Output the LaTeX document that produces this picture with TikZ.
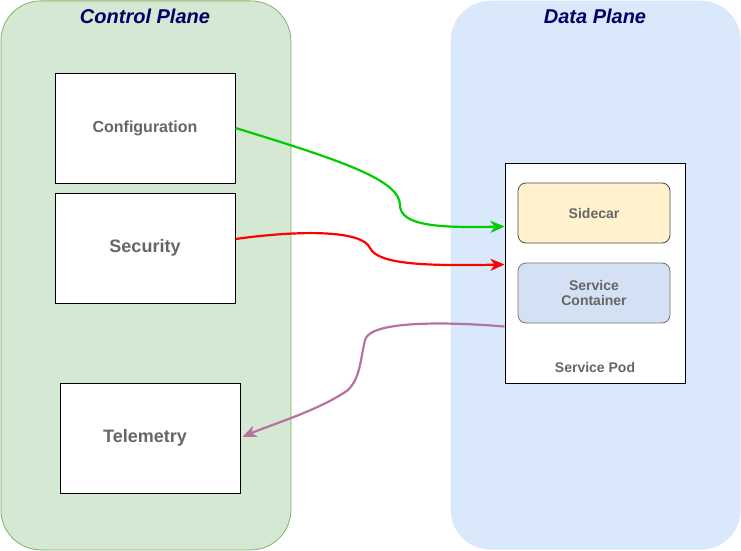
\documentclass[tikz,border=0pt]{standalone}
\usepackage{fontspec}
\setmainfont{Liberation Sans}
\usepackage{tikz}
\usetikzlibrary{arrows,arrows.meta,calc,positioning}

\definecolor{ctrlfill}{HTML}{D5E8D4}
\definecolor{ctrlline}{HTML}{82B366}
\definecolor{datafill}{HTML}{DAE8FC}
\definecolor{titleblue}{HTML}{000066}
\definecolor{labelgray}{HTML}{666666}
\definecolor{carfill}{HTML}{FFF2CC}
\definecolor{contfill}{HTML}{D4E1F5}
\definecolor{linkgreen}{HTML}{00CC00}
\definecolor{linkred}{HTML}{FF0000}
\definecolor{linkpurple}{HTML}{B5739D}

\begin{document}
\begin{tikzpicture}[x=1pt,y=-1pt,>={Stealth[length=14pt,width=12pt,inset=4pt]},auto]
%   Control Plane              Data Plane
%   [Configuration] ---------> +-------------+
%   [Security]      ---------> | [Sidecar]   |
%                              | [Container] |
%   [Telemetry]     <--------- +-Service Pod-+
    \tikzstyle{plane}=[anchor=north west, rounded corners=40pt, minimum width=290pt, minimum height=549pt, inner sep=0pt]
    \tikzstyle{title}=[anchor=center, font=\fontsize{20}{22}\selectfont\bfseries\itshape, text=titleblue]
    \tikzstyle{block}=[draw=black, fill=white, line width=1pt, minimum width=180pt, minimum height=110pt, text=labelgray]
    \tikzstyle{inner}=[draw=black!70, line width=0.8pt, rounded corners=8pt, minimum width=152pt, minimum height=60pt, text=labelgray, align=center, font=\fontsize{14}{15}\selectfont\bfseries]
    \tikzstyle{link}=[->, line width=2.2pt]
    \useasboundingbox (0,0) rectangle (741,551);

    % planes
    \node[plane, fill=ctrlfill, draw=ctrlline, line width=0.8pt] (ctrl) at (0.5,0.5) {};
    \node[plane, fill=datafill] (data) at (450.5,0.5) {};
    \node[title] (ctrltitle) at (145,16) {Control Plane};
    \node[title] (datatitle) at (595,16) {Data Plane};

    % control plane components
    \node[block, font=\fontsize{16}{18}\selectfont\bfseries] (config) at (145,128) {Configuration};
    \node[block, font=\fontsize{18}{20}\selectfont\bfseries, below=9pt of config] (security) {Security};
    \node[block, font=\fontsize{18}{20}\selectfont\bfseries] (telemetry) at (150,438) {Telemetry\kern10pt};

    % data plane components
    \node[block, minimum height=220pt] (pod) at (595,273) {};
    \node[font=\fontsize{14}{16}\selectfont\bfseries, text=labelgray] (podlabel) at (595,367) {Service Pod};
    \node[inner, fill=carfill] (sidecar) at (594,213) {Sidecar};
    \node[inner, fill=contfill, draw=black!55] (container) at (594,293) {Service\\Container};

    \coordinate (cfgin) at ([yshift=-64pt]pod.north west);
    \coordinate (secin) at ([yshift=-102pt]pod.north west);
    \coordinate (telout) at ([yshift=-164pt]pod.north west);

    \draw[link, linkgreen] (config.east) .. controls (340,160) and (400,180) .. (400,205)
        .. controls (400,226) and (440,228) .. (cfgin);
    \draw[link, linkred] ([yshift=9pt]security.east) .. controls (300,230) and (362,230) .. (370,248)
        .. controls (378,265) and (430,266) .. (secin);
    \draw[link, linkpurple] (telout) .. controls (450,322) and (370,320) .. (365,340)
        .. controls (360,362) and (360,378) .. (348,390)
        .. controls (320,410) and (270,425) .. ([xshift=2pt,yshift=1pt]telemetry.east);
\end{tikzpicture}
\end{document}
